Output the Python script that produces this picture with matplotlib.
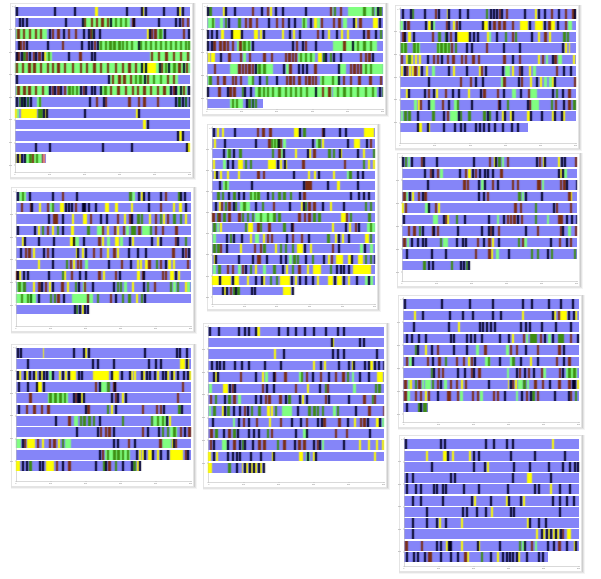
import numpy as np
import matplotlib
matplotlib.use("Agg")
from matplotlib import pyplot as plt
from matplotlib.colors import to_rgb
from matplotlib.patches import Rectangle

W = 601
H = 579

# colour blocks per row: code + position on the track, optional :length
panel_a = [
    "k47 k163 k221 y285:10 k378 y426:5 k424 k436 k489 k531 y536:6 k546",
    "k56 k67 k78 k194 k245 l250:85 r252 r272 r288 r304 r320 k331 l336:55 g345 g360 g375 r397 k400 k473 k525 k536 r546 r560",
    "l47:95 r52 r68 r86 r104 r120 k147 r155 r172 k188 r203 r224 k248 k264 r270 g273 k279 k298 y442:5 k447 r452 r463 l470:18 g478 k493 r548 k563",
    "k53 r58 r68 k78 k141 r186 k242 k264 k272 r282 k290 l295:275 g300 g314 g328 g340 g355 g365 g378 g392 k415 g420 g435 g450 g465 g480 g495 g510 g525 g540 g555 g565",
    "k47 r52 k62 g70 r78 k88 r98 k105 r115 k125 y133:4 l138:18 g143 k205 r238 k272 k283 l450:120 r452 r474 r496 r518 r540 r560",
    "l45:525 r47 r65 r85 r100 r120 r140 r155 r172 r192 r215 r240 r258 r280 r300 r320 r345 r365 r385 r405 k424 y428:6 k436 y441:27 k476 r483 g495 k505 g520 r535 k548 r558",
    "k47 k325 l330:205 r335 r355 r370 r390 g405 g418 k431 r440 g458 g480 r500 r518",
    "l47:100 r52 r70 r85 r105 r125 k147 r155 k163 r172 k180 r192 l200:40 g205 g215 g228 k240 r248 k256 k272 k283 k300 l300:210 g313 r330 r352 r375 r395 r410 r430 r450 r470 r490 k510 r520 k525 l530:30 k540 r548 k565",
    "k47 g57 k62 d68 k72 d80 k90 l112:10 g116 k268 r288 k310 r315 r385 r413 r430 r470 k525 d535 k545 d555 k568",
    "y45:7 l50:6 y62:50 g115:15 k130 y135:5 k138 k252 y408:5 k414",
    "y429:8 k440",
    "k531 y536:9 k546",
    "k104 k146 k305 k394 k557 y562:8",
    "y47:4 k50 y56 k62 k72 l75:50 g88 r96 g108 r125:4 s130 |138",
]

panel_b = [
    "k22 g28 y68 k75 k102 r155 k182 r200 y210 k224 k245 k314 r390 l395:5 g402 r420 l445:70 g490 g515 l525:10 k530 g538",
    "l25:20 g35 l60 g75 k83 g115 r135 r148 r168 k205 r227 r245 k265 k282 l305:15 g308 k330 y342:10 l352 r362 r398 r415 l430:12 k460 y465 r478 y520:13 k536",
    "k22 k32 k47 y64:8 k92 y96:26 k122 y162:12 y180 k188 y247:5 k268 y280:5 k296 r350 k366 y385:5 k408 y422:6 y440:7 k488 r502 k525 g540",
    "k22 k32 r40 r58 r70 r80 r95 l112:40 r118 g130 g143 k155 k276 r288 k306 r315 k345 l400:130 r430 k455 g470 g490 g510",
    "y24:5 y32:14 k59 r85 r120 l130:8 r147 r190 r212 r255 r265 r275 r285 l295:50 g300 g315 g330 y355:10 d368 k375 g390 k398 k420 r480 r495 r505 k515",
    "r42 l90:25 r115 r125 r135 r145 r155 k165 l168:50 g175 g190 k250 l258:8 r268 k293 k306 k318 r343 k414 l418:20 r450 r460 r470 r480 l485:65 g495 g510",
    "l25:5 g28 r50 r70 r95 r105 r120 l145:15 g155 k176 g198 k228 r258 r268 r278 r295 r315 r325 r335 r345 l360:60 g365 g395 k414 r428 r450 r475 r508 r540",
    "k22 r55 k80 r88 r100 g125 k133 k150 l165:230 g175 g188 g200 g215 g235 g255 g270 g285 g300 g318 k345 r365 r385 l400:130 g410 g430 g450 g470 g495 g515 k536 g545",
    "l90:40 g95 g108 k138 g145 d155 g165 |190",
]

panel_c = [
    "k22 k46 g50 k87 r120 k128 y155:3 k160 k192 k217 g272 k285 k294 k303 r311 k318 r332 k386 y420:7 k430 k448 r468 k490 r510 r532 k538",
    "l16:8 k28 r37 k90 y100:8 k108 l112 r152 k160 y175:6 r183 k191 k260 y264:15 k282 r295 r310 r325 r350 y375:25 k402 y420:25 l430 k447 r460 y465:15 k486 r510 l520:10",
    "r22 k28 y40:8 k55 r110 g130 g150 k152 r165 k181 y186:35 k222 k234 k246 y276 l282:6 k304 g330 r350 g360 k408 y428 r448 y462 g505 g515",
    "l18:18 g18 g28 l55:20 g55 g66 l125:40 g125 g136 g148 g158 r168 g180 k212 k228 r272 k325 k371 k502 y510:5 y522:4",
    "r18 y33 g40 y48 y60 y72 k97 r113 r125 k139 r155 r172 r198 r210 r232 r248 r325 k350 r372 y430 r440 l452 k470 r478 l490:12 y533",
    "y18 k28 r32 y42 y52 r58 y70 k78 y92 l112 k160 y175 k212 y252 r258 k270 k322 l330:14 y350 r372 k378 y402 l415 r483 k505 k525",
    "k98 r195 r225 k240 k260 l318 r325 k370 r378 y405 k422 y435 l448 l462 y470 k478 r538",
    "y32 k38 k87 r98 k113 y124 r150 k170 k190 y218:8 k254 r265 r305 k324 l352:12 k375 r398 l405:22 k470 g482 k502 r520",
    "l58 y68 r75 k98 l105:15 r140 k160 l178:12 g185 k228 r308 k312 g335 k396 r402 l408:25 g468 r480 k505 r520 g535",
    "l18:5 g28 g40 k65 g112 k145 r155 l165:25 k190 g195 g220 g265 k275 g282 k302 y322:5 k328 y346:5 k352 y396:8 k406 k438 y472 k478 k498 y505",
    "k65 y70:10 k97 y100 k145 k176 k196 k206 k240 k253 k265 k278 k296 k322 k348 k365 |400",
]

panel_d = [
    "k50 l58:20 g65 k86 k155 r185 k228 g388 l396 k415 y423 k428 k445 k480 r495 g535 k539 k553",
    "r62 r90 k93 y117 r140 l150 g155 y180:12 k195 k204 k212 r225 k245 k252 k265 k285 y315:12 y345:8 y392:6 k444 r480 y520 y538:8 k555",
    "k143 r160 r168 k186 y215 y250:10 r270 k300 k317 r350 y372 r388 k392 g412 g422 y447 r465 g480 y490 r500 g520 g540 y555",
    "k50 k102 y113:6 g125 r140 y155:7 g170 k186 y212:10 g262 l290:20 r306 y322 r342 y352 r368 l378:10 g392 g400 r415 l425:25 g450 r465 r485 r526",
    "y66 k72 k113 k160 y210:15 k218 l226:10 k248 r295 y305 l320:10 y345:12 l360 k386 y396 k453 y470 k480 r525 k530 g555",
    "k60 r75 r85 y100 k128 r140 k155 y228 k231 y245 k254 r278 r300 y320 r340 y352 k385 k410 k435 r517 k545 r555 k563",
    "y115 k155 g198 r210 y218 r230 r240 l255:8 k323 r363 k391 y410 y420 y435:8 r445 g468 r480 k495 y505:7 y520 r560",
    "r47 k50 y58 k68 k81 k143 g185 y192 r212 k238 k254 r295 y308 r345 k358 y410:10 r425 k430 r485 r495 y510:12 k524 y535:6",
    "l50:18 g55 g70 y100 r115 k122 r135 y148 k155 r184 y200 g225 k233 l250 r252 k275 k338 g350 g360 l372 y395 k428 g440 r462 g510 l520 g530 y555 l560:10",
    "l47:60 g63 g80 d90 k113 g150 g162 r172 k190 l215:50 r260 l268:10 g290 r330 k345 g365 g385 y408 g422 k432",
    "k222 g228 k238 y245 k252 k262 |268",
]

panel_e = [
    "k40 y50 y65 k102 r170 r187 r208 y282:15 k298 g310 r365 k368 k416 k434 y492:30",
    "y42 k73 k165 r205 l213:30 g213 g222 g232 k235 r240 l250 k337 l348 g355 y365 k441 y462:18 k497 r510",
    "k69 l80 g85 k100 g118 g215 r235 l240 k248 y285 k322 y328 r340 g385 g398 k417 y420 k472 y490 g520",
    "y40 l70 k80 k97 y115:14 g134 g150 y205:22 k230 y240:5 k252 y256 r307 r432 g488 y505 y520",
    "y42 k48 y60 y82 y115 r172 r188 k280 y325 y342 k355 y400 l440 g448 k472 k485",
    "k57 l68:20 g75 k152 k309 r315 r322 r330 k380 y410:10 k472",
    "g52 g65 k85 g100 k115 k128 l150:30 g150 g162 g172 k200 g215 g235 g250 g270 k297 r310 k450 k473 k490 k503",
    "k45 y58 r62 g75 r85 k100 g105 l120:30 g130 k165 g185 r218 k268 y304 k310 g315 r325 r340 k366 y390 k430 g495 g510",
    "r37 g50 r55 g70 r85 r115 g125 g140 g155 l165:60 g180 g200 g220 g235 r295 r312 r325 g340 g355 y422:15 r437 g450 g505",
    "g40 l50 y60 g135 y145:15 r172 g180 r205 g250 k272 r275 y395 k435 y448 r465 k473 l500:25 g510",
    "l40:8 k78 g90 k100 k122 y150 l165:12 y188 r200 r212 k258 r275 r302 k325 g382 y405 k415 y425 k445 y495:12 g510",
    "g40 g52 r60 k78 y120 r162 r180 g190 y225 g240 g255 g275 y290:20 k312 y330 r395 k415 l480 k492 l510",
    "y42 k45 k115 k155 r170 r175 k197 k240 k254 l268 g280 g290 k315 g335 k370 y385 r392 y408:20 y445:10 k452 y475:15 g495 g510 k522",
    "l40 g55 r80 r95 l115 r125 k135 g150 y165 l190 g220 k245 y258 g275 r295 y320 y340:22 g390 k408 k420 k430 k445 y458:55",
    "y37:20 k57 y62:30 k97 y102:15 y140 k165 k183 y190 g210 g228 y240:30 k272 y285 k298 k315 k335 y350 y385:15 k402 y412:15 k430 y445 k467 l495 k505 l510",
    "k65 y72 k78 r90 g100 k105 g112 k152 k162 y248:25 k275 |280",
]

panel_f = [
    "k22 g30 l38 k48 r78 k85 k122 k233 r282 y298 k300 g310 l320 r335 k422 r432 y445 k448 y490 k498 k506 r540",
    "k86 r105 k112 r125 l135 k192 r210 y218:10 k232 r240 k252 k268 k275 k290 r316 k490 y495 k500 l508:8",
    "k96 r205 r215 k250 l258:10 k268 r290 k305 r350 r365 r425 r432 l440:6 r495 r505 k512 k543",
    "r25 l32 k43 y50 r68 k80 r88 k248 k265 r275 g370 l380 k390 k437 r520 y525",
    "y22 r30 l90:12 k100 r120 y128 r358 r375 g420 k475 r483 r525",
    "k24 l115:15 k144 r150 y155 g182 k206 k280 l305 k325 r335 r345 r355 k365 r378 g420 l455 r490 r498 k512 k528 k543",
    "r38 r55 g72 k80 r110 k115 r125 k186 k258 k278 r285 k290 r308 k390 r425 r495 k500 l520:8 r540",
    "r25 l35 k48 k65 k80 k90 g135 l143 l150 k182 k200 k210 r245 k265 r280 y290 k310 g368 r380 l388 k465 r492 k512 r525",
    "k32 k107 k150 r240 r280 y287 l303 k338 g408 g425 k455 g468 g537",
    "g85 k100 k110 g168 k196 k205 g212 k220 |225",
]

panel_g = [
    "k50 k60 y128:3 k218 k249 y255:6 k264 k433 k527 k538 k558",
    "k81 k275 k291 k338 k444 k464 k480 y540:15 k558 y562:6",
    "k50 y58:6 k72 y78 k86 k100 y105 k117 y122 k128 k137 l148 k157 y178 k186 y196 k203 y210:18 k233 k243 y278:50 k333 y336:20 k364 k386 y392:6 y402 k422 y428 k437 k448 k462 y470 k485 k495 y500 k512 y520 k530 k548 k560 y568",
    "k54 k80 k107 y112:15 k130 r285 k296 l300:20 g322 r340 k343 r546",
    "r88 l145:60 g148 g163 g178 g192 k220 r225 k232 k238 y243 k248 k333 r345 k350 y367 k375 r530",
    "k54 r78 r100 r122 r142 k254 r262 g320 y332 k344 r425 r467 r480 k490 g535 k543",
    "k165 r205 l222:12 g240 g250 g265 g278 k296 g365 g453 l460:40 g470 g485 k498 y506:8",
    "k228 k291 r300 r315 r325 k338 r425 k440 k475 g485 g500 l510:20 g520 r540 k553 r565",
    "l47:15 k65 r72 y80:25 r110 y125 r147 r160 y175 g185 l195:18 k340 k352 r384 k402 r478 l485:28 y515 k520 r525",
    "k296 r305 l315:75 g320 g340 g352 g365 g380 k408 y418 y425 k433 y445:12 k455 y470 k480 k502 y510:40 r555 k562",
    "y47:12 k65 k77 g88 k118 k125 y138:25 r168 k186 r205 k285 g310 k315 r325 g345 k365 k392 g400 y412 k418 |422",
]

panel_h = [
    "k28 k55 k113 k132 k145 k165 y172:7 k234 k260 k286 k312 k338 k376 k411 k428",
    "k392 y397 k476 k490",
    "y222 k250 k395 k412 k428 k528",
    "k32 k47 k58 k70 k102 k122 k143 k192 k239 y338 k360 y373 k413 k444 y455 k458 k492 k505 y510:8 k522 k535 k548",
    "k40 y46 k50 r120 k165 y185 l195 k218 r222 r253 l298 g302 r318 k335 r360 k384 r405 r427 g440 l455 k478 k505 y530:20",
    "l28:8 y68:16 k88 r95 k102 r185 k198 k218 r285 y320 k358 g375 r380 l460:8 g525 g535",
    "r30 g45 k71 g85 r100 l115 k165 k180 r195 r205 r238 k255 g265 k298 y305 k318 r375 k383 k444 r490 g515 r522",
    "l28:6 g40 y65 k72 g82 k100 k118 r132 k141 g152 g175 y200:10 y212 g225 l245:30 k291 g325 g340 g350 g365 l400 g410 k465 r505 r548",
    "k35 l98 k113 r128 k145 r167 y208 r240 k272 k300 r318 k352 k362 r370 r415 k442 y462 r480 r490 k500 y528:10 k538 l545",
    "r30:10 g45:10 k68 r85 g100 k110 k143 k160 k175 g200 r212 k285 l310:10 k318 r405 r437 k507",
    "r30 k38 l65:15 k82 r100 k118 g125 k132 k155 r175 r190 g230 r250 k282 r295 r310 k340 r350 k358 l365 k428 y478 y503 y528 y545",
    "y25:8 k40 y48 k82 k97 k108 k118 k150 k181 y215 k218 y298:10 l318:12 k322 y340 k345 y522",
    "y25:10 g85 k108 y125:5 k132 y138 k146 y152 k160 y166 k174 y180 k188 |192",
]

panel_i = [
    "k28 k138 k222 k291 k380 k408 k459 k494 k531",
    "y58:5 k80 k163 k200 k232 k291 k316 y380:8 k470 y478:5 r488 y495:20 k520 k535 y540",
    "k54 k159 y190 k251 k262 k273 k284 k298 k375 k390 k402 k437 k479 k526",
    "k32 k47 k70 k91 k165 k174 k212 k226 k238 k259 k312 k338 y352 r383 l392 g405:22 r435 k448 l458:10 k470 g490:18 r525 k545",
    "g60 k65 y90 k107 r125 k175 k213 l243 r268 l333 r345 r362 k390 r425 r490 k505",
    "r32 l42 k52 r95 k112 r130 g150 r183 r203 y220 r228 k236 l270:15 g278 k312 l345 g352 k375 y405 k425 r483 k505 r520",
    "g108 k115 r128 r140 k185 k207 r228 k233 r250 l335 k362 r372 k388 r398 k415 r437 l445 r492 k500 l512:35 g520 g535",
    "r28 l38 y45 g60 r70 l80 l90 l100 g110 r125 k135 l147 r165 r183 y198 r210 k280 y338:5 k345 r350 y360 l370:15 g385 l395 r418 r440 k462 r490 r520 k530 k538 y545",
    "r28 l37 r60 r75 y90 r98 k125 r155 r160 r185 l195 r230 r245 l255 r293 r305 k326 l362 k378 r392 k405 g412 r425 k478 k518 r525 g540",
    "k32 g68:10 k76 g85:12 |100",
]

panel_j = [
    "k30 k134 k146 k270 k293 k333 k350 y470",
    "y92 y145:10 k155 y172 y222 k233 k250 k345 k418 k507",
    "k108 k234 k266 y277 k355 k402 k460 k502 k523 k536 k547",
    "k34 k50 k165 k176 k350 y395:16 k465",
    "k33 k60 k76 k113 k123 k140 k150 k203 k250 k335 k418 k429 y465 k491 k523",
    "k50 k76 k140 k228 y238 k286 y333 k338 k376 y383 k470 k492 k513 k533",
    "k92 k202 k212 k244 k270 y288 k345 k353 k491",
    "k50 k92 k124 y132 k150 y197 y397 k403 k429 k450",
    "k50 y423 k438 y445 k452 y459 k466 y473 k480 y487 k494 r500 y517:10",
    "r30:8 r78 k123 k134 y152 k158 k166 y197 k245 y250 k312 g372 l382 k388 r408 l420:6 k456 k475 r490 k513 y537 k541",
    "k33 k55 k67 k87 r98 r105 k135 k164 k187 r208 y215 g258 k285 y305 k320 k333 k342 k352 k362 y370 k392 k428 k440 |458",
]

tick_labels = ["0", "100", "200", "300", "400", "500"]

colors = {"l": "#80FF80", "y": "#FFFF00", "g": "#3C8C10", "d": "#0E6000",
          "r": "#7A2C10", "s": "#F08060", "k": "#000020"}
default_len = {"l": 8, "y": 6, "g": 7, "d": 7, "r": 7, "s": 6, "k": 6}
draw_order = "lygdrsk"
track = "#8585F8"

# rows, track start/end on the scale, box in pixels (left, top, right, bottom), first row top, row step, row height
panels = [
    (panel_a, 45, 570, 15.0, 5, 190.0, 172, 6.7, 11.33, 9.4),
    (panel_b, 20, 550, 206.7, 5, 383.3, 109, 6.7, 11.5, 9.6),
    (panel_c, 15, 543, 400.0, 7, 576.0, 143, 9.3, 11.33, 9.6),
    (panel_d, 47, 573, 15.7, 189, 191.0, 326, 191.7, 11.33, 9.4),
    (panel_e, 37, 525, 212.3, 126, 375.0, 304, 128.3, 10.55, 8.8),
    (panel_f, 20, 547, 401.7, 155, 577.3, 281, 157.3, 11.5, 9.6),
    (panel_g, 47, 573, 15.7, 346, 191.0, 481, 348.0, 11.33, 9.6),
    (panel_h, 25, 553, 208.3, 325, 384.3, 482, 326.7, 11.37, 9.4),
    (panel_i, 25, 552, 403.3, 297, 579.0, 422, 299.3, 11.5, 9.6),
    (panel_j, 27, 553, 404.0, 437, 579.3, 566, 439.3, 11.27, 10.0),
]


def read_row(text, end):
    blocks = {c: [] for c in draw_order}
    for tok in text.split():
        if tok[0] == "|":
            end = float(tok[1:])
            continue
        code = tok[0]
        if ":" in tok:
            pos, length = tok[1:].split(":")
            blocks[code].append((float(pos), float(length)))
        else:
            blocks[code].append((float(tok[1:]), default_len[code]))
    return blocks, end


# slight sideways smear on the blocks, the source picture is a scan
def soften(color):
    rgb = to_rgb(color)

    def run(image, dpi):
        pad = 2
        a = np.pad(image[:, :, 3], pad)
        a = 0.12 * np.roll(a, 1, 1) + 0.76 * a + 0.12 * np.roll(a, -1, 1)
        out = np.zeros(a.shape + (4,))
        out[:, :, 0], out[:, :, 1], out[:, :, 2] = rgb
        out[:, :, 3] = a
        return out, -pad, -pad
    return run


fig = plt.figure(figsize=(W / 100, H / 100), dpi=100, facecolor="white")

for rows, x0, x1, left, top, right, bottom, first, step, row_h in panels:
    # soft shadow behind the white card
    for grow, alpha in [(3.0, 0.06), (2.0, 0.10), (1.0, 0.14)]:
        fig.add_artist(Rectangle(((left - 5) / W, 1 - (bottom + 5 + grow) / H),
                                 (right + 3 + grow - left + 5) / W, (bottom + 5 + grow - top + 2) / H,
                                 transform=fig.transFigure, facecolor="#505050", alpha=alpha,
                                 edgecolor="none", zorder=0))
    fig.add_artist(Rectangle(((left - 5) / W, 1 - (bottom + 5) / H), (right + 2 - left + 5) / W,
                             (bottom + 5 - top + 2) / H, transform=fig.transFigure,
                             facecolor="white", edgecolor="#E4E4E4", linewidth=0.5, zorder=0.5))

    ax = fig.add_axes([left / W, 1 - bottom / H, (right - left) / W, (bottom - top) / H])
    ax.set_zorder(2)
    ax.set_facecolor("none")
    ax.set_xlim(x0, x1)
    ax.set_ylim((bottom - first) / step, (top - first) / step)
    bar_h = row_h / step

    for i, text in enumerate(rows):
        blocks, end = read_row(text, x1)
        ax.broken_barh([(x0, end - x0)], (i, bar_h), facecolor=track, edgecolor="none", zorder=1)
        for z, code in enumerate(draw_order):
            if blocks[code]:
                part = ax.broken_barh(blocks[code], (i, bar_h), facecolor=colors[code],
                                      edgecolor="none", zorder=2 + z)
                part.set_agg_filter(soften(colors[code]))

    ax.set_xticks([x0 + (x1 - x0) * n / 5 for n in range(6)])
    ax.set_xticklabels(tick_labels)
    ax.set_yticks(range(0, len(rows) + 1, 2))
    ax.set_yticklabels([str(n * 100) for n in range(0, len(rows) // 2 + 1)])
    ax.tick_params(length=1, width=0.3, labelsize=1.6, pad=0.4, colors="#888888")
    for side in ["top", "right"]:
        ax.spines[side].set_visible(False)
    for side in ["left", "bottom"]:
        ax.spines[side].set_color("#BBBBBB")
        ax.spines[side].set_linewidth(0.4)

fig.savefig("out.png", dpi=100)
